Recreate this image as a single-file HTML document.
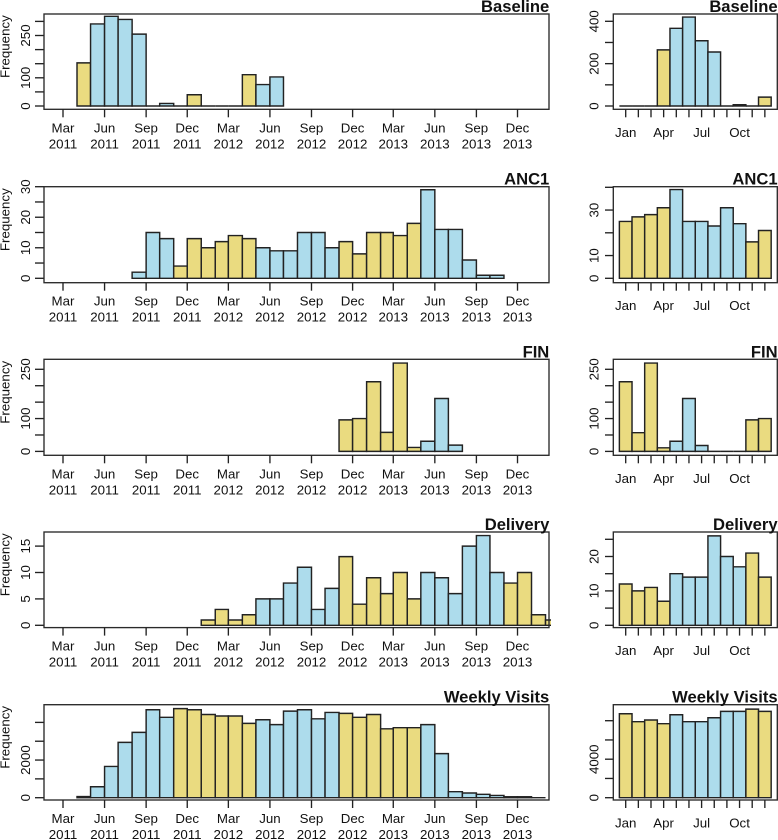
<!DOCTYPE html>
<html lang="en">
<head>
<meta charset="utf-8">
<title>Monthly frequency histograms</title>
<style>
html,body{margin:0;padding:0;background:#fff;}
svg{display:block;font-family:"Liberation Sans",Arial,sans-serif;}
</style>
</head>
<body>
<svg id="figure" xmlns="http://www.w3.org/2000/svg" width="778" height="840" viewBox="0 0 778 840"></svg>
<script>
// ---- data: calendar histograms (first month + counts per month) ----
const titles = ["Baseline", "ANC1", "FIN", "Delivery", "Weekly Visits"];
const timelineStarts = ["2011-04", "2011-08", "2012-11", "2012-01", "2011-04"];
const timelineBaseline = [153, 291, 318, 307, 255, 0, 9, 0, 40, 0, 0, 0, 111, 76, 103];
const timelineAnc1 = [2, 15, 13, 4, 13, 10, 12, 14, 13, 10, 9, 9, 15, 15, 10, 12, 8, 15, 15, 14, 18, 29, 16, 16, 6, 1, 1];
const timelineFin = [96, 100, 212, 58, 269, 12, 31, 161, 19];
const timelineDelivery = [1, 3, 1, 2, 5, 5, 8, 11, 3, 7, 13, 4, 9, 6, 10, 5, 10, 9, 6, 15, 17, 10, 8, 10, 2, 1];
const timelineWeekly = [60, 580, 1660, 2940, 3470, 4670, 4270, 4730, 4670, 4420, 4340, 4340, 3950, 4140, 3880, 4600, 4670, 4190, 4530, 4480, 4270, 4420, 3660, 3720, 3720, 3880, 2340, 320, 250, 180, 120, 50, 50, 0];

// ---- data: month-of-year histograms (Jan..Dec) ----
const seasonBaseline = [0, 0, 0, 265, 367, 420, 308, 255, 0, 6, 0, 42];
const seasonAnc1 = [25, 27, 28, 31, 39, 25, 25, 23, 31, 24, 16, 21];
const seasonFin = [212, 57, 269, 11, 31, 161, 18, 0, 0, 0, 96, 100];
const seasonDelivery = [12, 10, 11, 7, 15, 14, 14, 26, 20, 17, 21, 14];
const seasonWeekly = [8720, 7900, 8070, 7690, 8620, 7900, 7900, 8310, 8970, 8970, 9200, 8970];

// ---- tick labels ----
const dateTickMonths = ["2011-03", "2011-06", "2011-09", "2011-12", "2012-03", "2012-06", "2012-09", "2012-12", "2013-03", "2013-06", "2013-09", "2013-12"];
const monthNames = ["Jan", "Feb", "Mar", "Apr", "May", "Jun", "Jul", "Aug", "Sep", "Oct", "Nov", "Dec"];
const seasonLabelIndex = [0, 3, 6, 9];

const timelineTicks = [[0, 50, 100, 150, 200, 250, 300], [0, 5, 10, 15, 20, 25, 30], [0, 50, 100, 150, 200, 250], [0, 5, 10, 15], [0, 1000, 2000, 3000, 4000]];
const timelineTickLabels = [[0, 100, 250], [0, 10, 20, 30], [0, 100, 250], [0, 5, 10, 15], [0, 2000]];
const seasonTicks = [[0, 100, 200, 300, 400], [0, 10, 20, 30, 40], [0, 50, 100, 150, 200, 250], [0, 5, 10, 15, 20, 25], [0, 2000, 4000, 6000, 8000]];
const seasonTickLabels = [[0, 200, 400], [0, 10, 30], [0, 100, 250], [0, 10, 20], [0, 4000]];

const timelineSeries = [timelineBaseline, timelineAnc1, timelineFin, timelineDelivery, timelineWeekly];
const seasonSeries = [seasonBaseline, seasonAnc1, seasonFin, seasonDelivery, seasonWeekly];

// ---- layout (pixels) kept apart from the data ----
const rowLayout = [
  {top: 14, bottom: 109.3, zero: 106, leftTop: 21.4, rightTop: 21.3},
  {top: 186.7, bottom: 282.7, zero: 278.3, leftTop: 186.7, rightTop: 187.3},
  {top: 359.3, bottom: 455.3, zero: 451.4, leftTop: 369.3, rightTop: 369.3},
  {top: 532, bottom: 627.6, zero: 625.3, leftTop: 546.1, rightTop: 539.3},
  {top: 704.7, bottom: 800, zero: 797.7, leftTop: 722.4, rightTop: 720.7}
];
const LEFT = {x0: 44, x1: 549, originX: 63, pxPerDay: 0.4518, tickLabelX: 30, tickStartX: 35};
const RIGHT = {x0: 613.3, x1: 777.3, firstCenter: 625.7, step: 12.65, tickLabelX: 598.3, tickStartX: 605};
const BLUE = "#addcec", YELLOW = "#eadb80", INK = "#222222", TEXT = "#111111";
const SVGNS = "http://www.w3.org/2000/svg";
const figure = document.getElementById("figure");

function mk(tag, parent, props, text) {
  const el = document.createElementNS(SVGNS, tag);
  for (const k in props) el.setAttribute(k, props[k]);
  if (text !== undefined) el.textContent = text;
  parent.appendChild(el);
  return el;
}
function monthUTC(ym, add) {
  const p = ym.split("-").map(Number);
  return Date.UTC(p[0], p[1] - 1 + (add || 0), 1);
}
function timeX(ms) {
  return LEFT.originX + (ms - Date.UTC(2011, 2, 1)) / 86400000 * LEFT.pxPerDay;
}
function seasonX(i) {
  return RIGHT.firstCenter + i * RIGHT.step;
}
function yScale(row, side, value, domainMax) {
  const r = rowLayout[row];
  const topPx = side === "left" ? r.leftTop : r.rightTop;
  return r.zero - (r.zero - topPx) * value / domainMax;
}
function monthColor(m) {
  return (m >= 4 && m <= 9) ? BLUE : YELLOW;
}
function lineEl(parent, x1, y1, x2, y2) {
  return mk("line", parent, {x1: x1, y1: y1, x2: x2, y2: y2, stroke: INK, "stroke-width": 1.35});
}

const defs = mk("defs", figure, {});
const clip = mk("clipPath", defs, {id: "left-clip"});
mk("rect", clip, {x: 0, y: 0, width: 551, height: 840});

function drawYAxis(g, row, side, geom, ticks, labels) {
  const domainMax = ticks[ticks.length - 1];
  ticks.forEach(function (t) {
    const y = yScale(row, side, t, domainMax);
    const tick = lineEl(g, geom.tickStartX, y, geom.x0, y);
    
    
  });
  labels.forEach(function (t) {
    const y = yScale(row, side, t, domainMax);
    const label = mk("text", g, {x: geom.tickLabelX, y: y, "font-size": 13.3, fill: TEXT, "text-anchor": "middle", transform: "rotate(-90 " + geom.tickLabelX + " " + y + ")"}, String(t));
    
    
  });
  return domainMax;
}

// Bars are closed paths so a zero count still draws its baseline stroke.
function drawBar(g, x0, x1, yTop, yBase, fill, clipped) {
  const d = "M" + x0 + " " + yBase + "L" + x0 + " " + yTop + "L" + x1 + " " + yTop + "L" + x1 + " " + yBase + "Z";
  const bar = mk("path", g, {d: d, fill: fill, stroke: INK, "stroke-width": 1.45});
  if (clipped) bar.setAttribute("clip-path", "url(#left-clip)");
  return bar;
}

function drawBox(g, geom, r, title) {
  const box = mk("rect", g, {x: geom.x0, y: r.top, width: geom.x1 - geom.x0, height: r.bottom - r.top, fill: "none", stroke: "#2a2a2a", "stroke-width": 1.35});
  
  
  const t = mk("text", g, {x: geom.x1 + 0.3, y: r.top - 2, "font-size": 16.6, "font-weight": "bold", fill: "#111", "text-anchor": "end"}, title);
  
  
}

titles.forEach(function (title, row) {
  const r = rowLayout[row];

  // ---- left: calendar timeline ----
  const lg = mk("g", figure, {});
  
  
  const lMax = drawYAxis(lg, row, "left", LEFT, timelineTicks[row], timelineTickLabels[row]);
  timelineSeries[row].forEach(function (v, i) {
    const start = monthUTC(timelineStarts[row], i);
    const end = monthUTC(timelineStarts[row], i + 1);
    const bar = drawBar(lg, timeX(start), timeX(end), yScale(row, "left", v, lMax), r.zero, monthColor(new Date(start).getUTCMonth()), true);
    
    
  });
  drawBox(lg, LEFT, r, title);
  dateTickMonths.forEach(function (ym) {
    const ms = monthUTC(ym);
    const x = timeX(ms);
    const tick = lineEl(lg, x, r.bottom, x, r.bottom + 8);
    
    
    const d = new Date(ms);
    const m = mk("text", lg, {x: x, y: r.bottom + 23, "font-size": 13.3, fill: TEXT, "text-anchor": "middle"}, monthNames[d.getUTCMonth()]);
    
    
    const yr = mk("text", lg, {x: x, y: r.bottom + 39, "font-size": 13.3, fill: TEXT, "text-anchor": "middle"}, String(d.getUTCFullYear()));
    
    
  });
  const yc = (r.top + r.bottom) / 2 - 15;
  const yTitle = mk("text", lg, {x: 9.5, y: yc, "font-size": 13.3, fill: TEXT, "text-anchor": "middle", transform: "rotate(-90 9.5 " + yc + ")"}, "Frequency");
  
  

  // ---- right: month of year ----
  const rg = mk("g", figure, {});
  
  
  const rMax = drawYAxis(rg, row, "right", RIGHT, seasonTicks[row], seasonTickLabels[row]);
  seasonSeries[row].forEach(function (v, i) {
    const x = seasonX(i);
    const bar = drawBar(rg, x - RIGHT.step / 2, x + RIGHT.step / 2, yScale(row, "right", v, rMax), r.zero, monthColor(i), false);
    
    
  });
  drawBox(rg, RIGHT, r, title);
  monthNames.forEach(function (name, i) {
    const x = seasonX(i);
    const tick = lineEl(rg, x, r.bottom, x, r.bottom + 8);
    
    
  });
  seasonLabelIndex.forEach(function (i) {
    const label = mk("text", rg, {x: seasonX(i), y: r.bottom + 27.5, "font-size": 13.3, fill: TEXT, "text-anchor": "middle"}, monthNames[i]);
    
    
  });
});
</script>
</body>
</html>
